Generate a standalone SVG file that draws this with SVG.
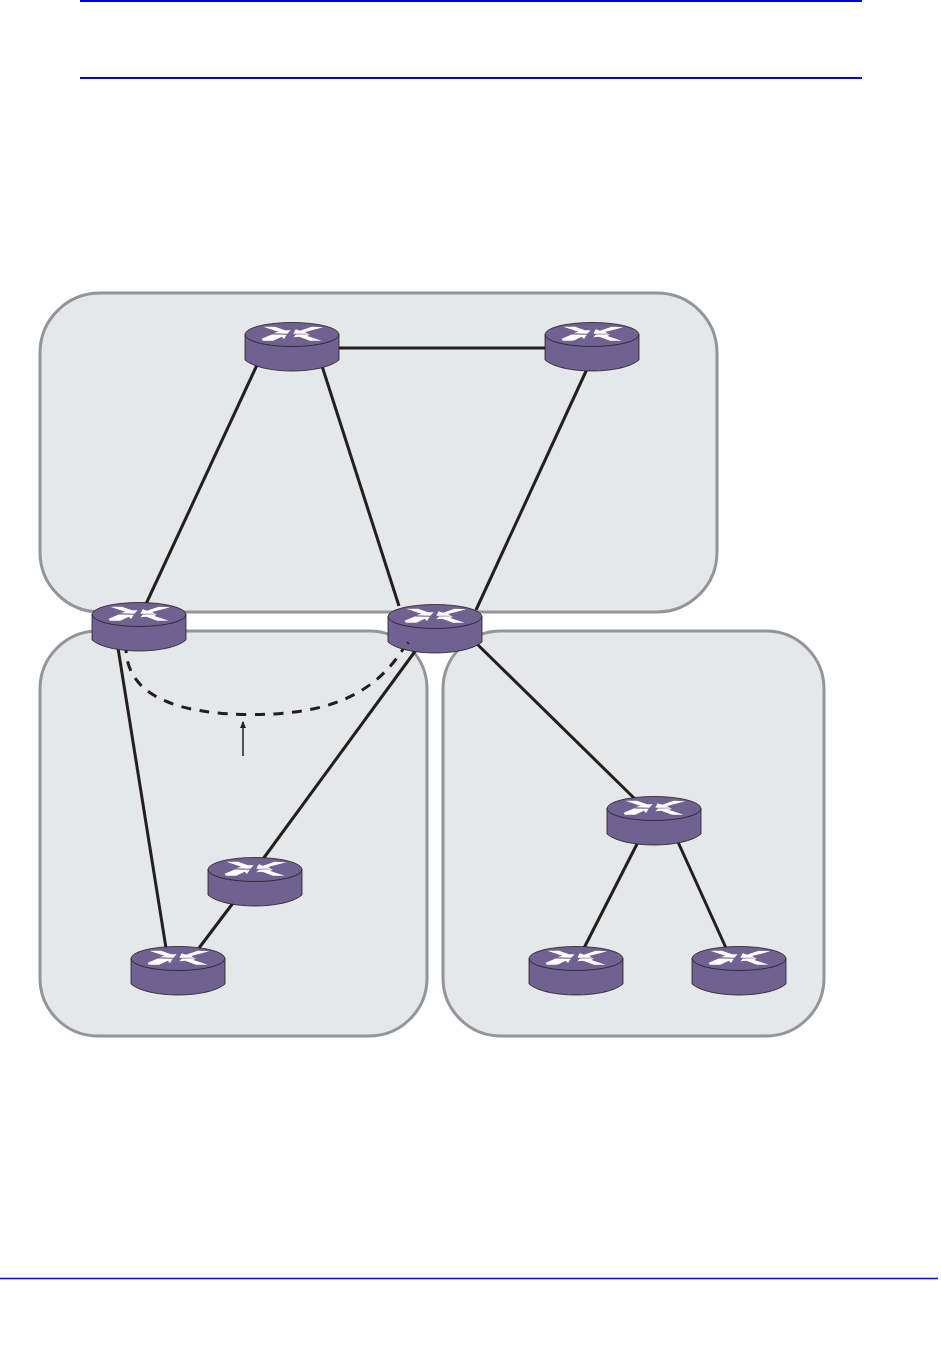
<svg xmlns="http://www.w3.org/2000/svg" width="941" height="1346" viewBox="0 0 941 1346">
<style>
.rule{stroke:#0000e0;fill:none}
.panel{fill:#e6e7e8;stroke:#939598;stroke-width:3}
.link{stroke:#231f20;stroke-width:3;fill:none}
.dash{stroke:#231f20;stroke-width:3;fill:none;stroke-dasharray:10 8.500;stroke-dashoffset:7}
.body{fill:#6f6190;stroke:#231f20;stroke-width:.8}
.top{fill:#6f6190;stroke:#231f20;stroke-width:.8}
.glyph{fill:#fff}
</style>
<defs>
<marker id="tip" markerUnits="userSpaceOnUse" markerWidth="7" markerHeight="8" refX="6" refY="3" orient="auto">
<path d="M0 0L7 3L0 6Z" fill="#231f20"/>
</marker>
<g id="router">
<path class="body" d="M0 12.500V38C8 45 27 49 47 49S86 45 94 38V12.500Z"/>
<ellipse class="top" cx="47" cy="12.500" rx="47" ry="12"/>
<path class="glyph" d="M18.300 4.700L30 4.700L40 8.200L45.700 8.200L42.300 11.700L28.300 11.300L33.300 9.700Z"/>
<path class="glyph" d="M16.700 16.800L26.700 12.500L41.700 12.800L39 17L36.700 14.700L28.300 18.700L17.700 18.700Z"/>
<path class="glyph" d="M78.300 5.300L66.700 4.700L55 8.700L50.700 7.300L48.300 11.700L63.300 11.700L60 10Z"/>
<path class="glyph" d="M76.700 18.700L65 18.700L54.300 14.700L48.300 15.300L51 12.500L65 12.300L62.300 14Z"/>
</g>
</defs>
<rect width="941" height="1346" fill="#fff"/>
<g id="page-rules">
<line class="rule" x1="80" y1="1" x2="862" y2="1" stroke-width="2"/>
<line class="rule" x1="80" y1="78" x2="862" y2="78" stroke-width="2"/>
<line class="rule" x1="0" y1="1278.500" x2="938" y2="1278.500" stroke-width="1.300"/>
</g>
<g id="panels">
<rect id="panel-top" class="panel" x="40" y="293" width="677" height="319" rx="60" ry="60"/>
<rect id="panel-left" class="panel" x="40" y="631" width="387" height="405" rx="58" ry="58"/>
<rect id="panel-right" class="panel" x="443" y="631" width="381" height="405" rx="58" ry="58"/>
</g>
<g id="connectors">
<line class="link" x1="339" y1="348" x2="546" y2="348"/>
<line class="link" x1="257" y1="365" x2="146" y2="604"/>
<line class="link" x1="322" y1="366" x2="399" y2="606"/>
<line class="link" x1="587" y1="369" x2="476" y2="610"/>
<line class="link" x1="118" y1="648" x2="166" y2="948"/>
<line class="link" x1="416" y1="650" x2="263" y2="859"/>
<line class="link" x1="233" y1="903" x2="199" y2="948"/>
<line class="link" x1="476" y1="643" x2="635" y2="799"/>
<line class="link" x1="638" y1="842" x2="584" y2="948"/>
<line class="link" x1="678" y1="842" x2="726" y2="948"/>
<path class="dash" d="M126 650C128 695 175 714 250 714.500C320 714.500 372 700 405 646"/>
<line x1="243" y1="756" x2="243" y2="722" stroke="#231f20" stroke-width="1.500" marker-end="url(#tip)"/>
</g>
<g id="r1"><use href="#router" x="245" y="322"/></g>
<g id="r2"><use href="#router" x="545" y="322"/></g>
<g id="r3"><use href="#router" x="92" y="602"/></g>
<g id="r4"><use href="#router" x="388" y="604"/></g>
<g id="r5"><use href="#router" x="607" y="796"/></g>
<g id="r6"><use href="#router" x="208" y="857"/></g>
<g id="r7"><use href="#router" x="131" y="946"/></g>
<g id="r8"><use href="#router" x="529" y="946"/></g>
<g id="r9"><use href="#router" x="692" y="946"/></g>
<g id="connector-end"><line x1="407" y1="642" x2="409" y2="644" stroke="#231f20" stroke-width="1.500"/></g>
</svg>
